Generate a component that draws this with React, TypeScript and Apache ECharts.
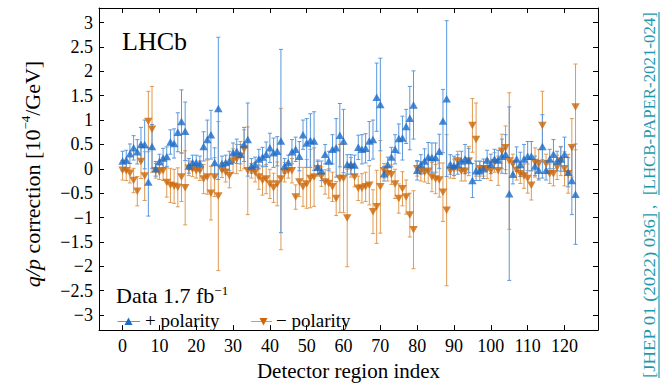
import React, { useEffect, useRef } from "react";
import * as echarts from "echarts";

const xTicks = [0, 10, 20, 30, 40, 50, 60, 70, 80, 90, 100, 110, 120];
const yTicks = [-3, -2.5, -2, -1.5, -1, -0.5, 0, 0.5, 1, 1.5, 2, 2.5, 3];

const plusValues = [
  0.16, 0.18, 0.31, 0.43, 0.35, 0.5, 0.5, -0.27, 0.46, 0.0,
  0.15, 0.22, 0.25, 0.55, 0.52, 0.75, 0.97, 0.77, 0.06, 0.13,
  0.13, 0.11, 0.46, 0.6, 0.7, 0.13, 1.24, 0.11, 0.13, 0.16,
  0.33, 0.36, 0.3, 0.5, 0.6, 0.06, 0.09, 0.2, 0.24, 0.3,
  0.43, 0.33, 0.36, 0.57, 0.06, 0.13, 0.35, 0.4, 0.26, 0.7,
  0.53, 0.58, 0.57, 0.03, -0.04, 0.3, 0.16, 0.4, 0.43, 0.69,
  0.57, 0.09, 0.09, 0.08, 0.44, 0.4, 0.42, 0.57, 0.6, 1.47,
  1.32, -0.1, 0.09, 0.24, 0.4, 0.62, 0.63, 0.87, 1.04, 1.31,
  -0.03, 0.09, 0.16, 0.24, 0.23, 0.23, 0.36, 0.98, 1.44, 0.09,
  0.06, 0.09, 0.16, 0.2, 0.17, -0.24, -0.04, -0.04, 0.0, 0.18,
  0.1, 0.2, 0.18, 0.26, 0.3, -0.51, -0.11, 0.2, 0.09, 0.2,
  0.26, 0.26, 0.06, -0.03, 0.46, -0.03, 0.2, 0.3, 0.16, 0.2,
  0.3, -0.07, -0.24, -0.52,
];
const plusErrors = [
  0.2, 0.2, 0.2, 0.25, 0.25, 0.35, 0.5, 0.7, 0.45, 0.15,
  0.15, 0.2, 0.2, 0.25, 0.3, 0.4, 0.65, 0.6, 0.15, 0.15,
  0.15, 0.15, 0.3, 0.4, 0.5, 0.3, 1.46, 0.15, 0.15, 0.2,
  0.2, 0.25, 0.2, 0.35, 0.75, 0.15, 0.15, 0.2, 0.2, 0.25,
  0.3, 0.3, 0.3, 1.88, 0.15, 0.15, 0.25, 0.25, 0.3, 0.3,
  0.5, 0.55, 0.6, 0.15, 0.2, 0.2, 0.2, 0.3, 0.6, 0.65,
  0.65, 0.2, 0.2, 0.2, 0.25, 0.3, 0.3, 0.4, 0.4, 0.7,
  0.95, 0.15, 0.15, 0.2, 0.3, 0.3, 0.45, 0.35, 0.65, 0.7,
  0.2, 0.2, 0.25, 0.3, 0.3, 0.3, 0.35, 0.65, 1.6, 0.2,
  0.2, 0.2, 0.2, 0.3, 0.25, 0.35, 0.2, 0.2, 0.2, 0.2,
  0.2, 0.2, 0.2, 0.35, 0.4, 1.78, 0.2, 0.25, 0.25, 0.3,
  0.3, 0.3, 0.2, 0.2, 0.65, 0.2, 0.2, 0.3, 0.2, 0.25,
  0.35, 0.3, 0.7, 1.03,
];
const minusValues = [
  -0.03, -0.04, -0.09, -0.24, -0.46, 0.15, -0.15, 0.97, 0.81, -0.04,
  -0.07, -0.04, -0.28, -0.34, -0.36, -0.38, -0.17, -0.39, 0.01, -0.01,
  -0.04, -0.04, -0.21, -0.17, -0.5, -0.17, -0.56, -0.03, -0.07, -0.14,
  0.16, 0.2, 0.26, 0.4, -0.04, -0.04, -0.07, -0.17, -0.24, -0.21,
  -0.31, -0.39, -0.31, -0.21, -0.07, -0.04, -0.04, -0.58, -0.27, -0.37,
  -0.31, -0.2, -0.17, 0.0, -0.16, -0.27, -0.3, -0.37, -0.61, -0.2,
  -0.2, -1.01, 0.03, -0.17, -0.4, -0.4, -0.37, -0.34, -0.88, -0.78,
  -0.37, -0.04, -0.1, -0.12, -0.31, -0.61, -0.41, -0.58, -0.95, -1.25,
  0.0, -0.05, -0.07, -0.05, -0.17, -0.21, -0.23, -0.48, -0.85, -0.04,
  0.0, 0.16, -0.05, -0.05, 0.16, 0.89, 0.6, 0.0, 0.0, 0.0,
  -0.04, 0.13, -0.04, 0.36, 0.43, 0.16, 0.1, -0.03, -0.1, -0.15,
  -0.2, -0.34, 0.13, 0.1, 0.89, 0.1, -0.1, -0.1, 0.03, 0.16,
  0.0, -0.1, 0.43, 1.27,
];
const minusErrors = [
  0.2, 0.2, 0.2, 0.25, 0.3, 0.35, 0.5, 0.62, 0.88, 0.15,
  0.15, 0.2, 0.3, 0.35, 0.35, 0.4, 0.5, 0.76, 0.15, 0.15,
  0.15, 0.2, 0.3, 0.35, 0.55, 0.4, 1.53, 0.15, 0.2, 0.25,
  0.25, 0.3, 0.3, 0.4, 0.9, 0.15, 0.2, 0.25, 0.3, 0.3,
  0.3, 0.3, 0.45, 1.45, 0.2, 0.15, 0.25, 0.25, 0.3, 0.4,
  0.5, 0.6, 0.6, 0.15, 0.2, 0.25, 0.3, 0.3, 0.35, 0.7,
  0.7, 1.0, 0.2, 0.2, 0.25, 0.3, 0.3, 0.4, 0.45, 0.75,
  0.95, 0.15, 0.15, 0.2, 0.3, 0.3, 0.35, 0.35, 0.45, 0.8,
  0.15, 0.2, 0.2, 0.25, 0.3, 0.3, 0.35, 0.6, 1.55, 0.15,
  0.2, 0.2, 0.2, 0.2, 0.3, 0.55, 0.75, 0.15, 0.15, 0.2,
  0.2, 0.2, 0.3, 0.35, 0.45, 1.4, 0.2, 0.2, 0.2, 0.25,
  0.3, 0.3, 0.3, 0.3, 0.7, 0.2, 0.2, 0.25, 0.25, 0.3,
  0.35, 0.4, 0.6, 0.88,
];

const BLUE = "#1d6bc8";
const BLUE_BAR = "#5a98de";
const ORANGE = "#cc6608";
const ORANGE_BAR = "#e09a52";
const TEAL = "#1f9aab";
const SERIF = "'Liberation Serif', 'Times New Roman', serif";

const fmtMinus = (v: number) => (v < 0 ? "\u2212" + String(Math.abs(v)) : String(v));

function errorSeries(values: number[], errors: number[], color: string, z: number) {
  return {
    type: "custom",
    xAxisIndex: 0,
    yAxisIndex: 0,
    silent: true,
    z,
    data: values.map((v, i) => [i, v - errors[i], v + errors[i]]),
    encode: { x: 0, y: [1, 2] },
    renderItem: (params: any, api: any) => {
      const x = api.value(0);
      const lo = api.coord([x, api.value(1)]);
      const hi = api.coord([x, api.value(2)]);
      const c = 2;
      const st = { stroke: color, lineWidth: 1 };
      return {
        type: "group",
        children: [
          { type: "line", shape: { x1: lo[0], y1: lo[1], x2: hi[0], y2: hi[1] }, style: st },
          { type: "line", shape: { x1: lo[0] - c, y1: lo[1], x2: lo[0] + c, y2: lo[1] }, style: st },
          { type: "line", shape: { x1: hi[0] - c, y1: hi[1], x2: hi[0] + c, y2: hi[1] }, style: st },
        ],
      };
    },
  };
}

function measure(text: string, size: number) {
  const cv = document.createElement("canvas");
  const ctx = cv.getContext("2d");
  if (!ctx) return text.length * size * 0.5;
  ctx.font = `${size}px ${SERIF}`;
  return ctx.measureText(text).width;
}

export default function App() {
  const ref = useRef<HTMLDivElement>(null);
  useEffect(() => {
    if (!ref.current) return;
    const chart = echarts.init(ref.current, undefined, { renderer: "svg" });

    const citeSize = 17;
    const p1 = "[JHEP 01 (2022) 036]";
    const p3 = "[LHCB-PAPER-2021-024]";
    const w1 = measure(p1, citeSize);
    const w3 = measure(p3, citeSize);
    const start1 = 8;
    const len1 = 166;
    const start3 = 191;
    const len3 = 183;

    const axisCommon = {
      type: "value",
      splitLine: { show: false },
      axisLine: { show: true, onZero: false, lineStyle: { color: "#000", width: 1 } },
    };

    chart.setOption({
      animation: false,
      backgroundColor: "#fff",
      grid: { left: 99, right: 66, top: 8, bottom: 50, containLabel: false },
      xAxis: [
        {
          ...axisCommon,
          position: "bottom",
          min: -6.4,
          max: 129.1,
          axisTick: { show: true, inside: true, length: 5, customValues: xTicks, lineStyle: { color: "#000" } },
          axisLabel: {
            customValues: xTicks,
            fontFamily: SERIF,
            fontSize: 18,
            color: "#000",
            margin: 7,
          },
          name: "Detector region index",
          nameLocation: "middle",
          nameGap: 29,
          nameTextStyle: { fontFamily: SERIF, fontSize: 21, color: "#000" },
        },
        {
          ...axisCommon,
          position: "top",
          min: -6.4,
          max: 129.1,
          axisTick: { show: true, inside: true, length: 5, customValues: xTicks, lineStyle: { color: "#000" } },
          axisLabel: { show: false },
        },
      ],
      yAxis: [
        {
          ...axisCommon,
          position: "left",
          min: -3.31,
          max: 3.3,
          axisTick: { show: true, inside: true, length: 5, customValues: yTicks, lineStyle: { color: "#000" } },
          axisLabel: {
            customValues: yTicks,
            fontFamily: SERIF,
            fontSize: 18,
            color: "#000",
            margin: 6,
            formatter: (v: number) => fmtMinus(v),
          },
        },
        {
          ...axisCommon,
          position: "right",
          min: -3.31,
          max: 3.3,
          axisTick: { show: true, inside: true, length: 5, customValues: yTicks, lineStyle: { color: "#000" } },
          axisLabel: { show: false },
        },
      ],
      series: [
        errorSeries(minusValues, minusErrors, ORANGE_BAR, 2),
        errorSeries(plusValues, plusErrors, BLUE_BAR, 3),
        {
          type: "scatter",
          name: "\u2212 polarity",
          data: minusValues.map((v, i) => [i, v]),
          symbol: "triangle",
          symbolRotate: 180,
          symbolSize: [8.5, 7.5],
          itemStyle: { color: ORANGE },
          z: 4,
          silent: true,
        },
        {
          type: "scatter",
          name: "+ polarity",
          data: plusValues.map((v, i) => [i, v]),
          symbol: "triangle",
          symbolSize: [8.5, 7.5],
          itemStyle: { color: BLUE },
          z: 5,
          silent: true,
        },
      ],
      graphic: [
        {
          type: "text",
          x: 32,
          y: 174,
          rotation: Math.PI / 2,
          style: {
            text: "{i|q/p} correction [10{sup|\u22124}/GeV]",
            font: `22px ${SERIF}`,
            fill: "#000",
            align: "center",
            verticalAlign: "middle",
            rich: {
              i: { fontFamily: SERIF, fontSize: 22, fontStyle: "italic", lineHeight: 26 },
              sup: { fontFamily: SERIF, fontSize: 13, lineHeight: 13, verticalAlign: "top" },
            },
          },
        },
        {
          type: "text",
          x: 122,
          y: 41,
          style: { text: "LHCb", font: `26px ${SERIF}`, fill: "#000", verticalAlign: "middle" },
        },
        {
          type: "text",
          x: 116,
          y: 295,
          style: {
            text: "Data 1.7 fb{sup|\u22121}",
            font: `22px ${SERIF}`,
            fill: "#000",
            verticalAlign: "middle",
            rich: {
              sup: { fontFamily: SERIF, fontSize: 13, lineHeight: 13, verticalAlign: "top" },
            },
          },
        },
        // legend: + polarity
        { type: "line", shape: { x1: 117.5, y1: 321.5, x2: 140, y2: 321.5 }, style: { stroke: BLUE_BAR, lineWidth: 1 } },
        {
          type: "polygon",
          shape: { points: [[128.5, 317.5], [132.5, 325], [124.5, 325]] },
          style: { fill: BLUE },
        },
        {
          type: "text",
          x: 145,
          y: 320,
          style: { text: "+ polarity", font: `19px ${SERIF}`, fill: "#000", verticalAlign: "middle" },
        },
        // legend: - polarity
        { type: "line", shape: { x1: 251, y1: 321.5, x2: 272, y2: 321.5 }, style: { stroke: ORANGE_BAR, lineWidth: 1 } },
        {
          type: "polygon",
          shape: { points: [[259.5, 318], [267.5, 318], [263.5, 325.5]] },
          style: { fill: ORANGE },
        },
        {
          type: "text",
          x: 276,
          y: 320,
          style: { text: "\u2212 polarity", font: `19px ${SERIF}`, fill: "#000", verticalAlign: "middle" },
        },
        // citation on right side
        {
          type: "group",
          x: 649,
          y: 386,
          rotation: Math.PI / 2,
          children: [
            {
              type: "text",
              x: start1,
              y: 0,
              scaleX: len1 / w1,
              style: { text: p1, font: `${citeSize}px ${SERIF}`, fill: TEAL, align: "left", verticalAlign: "middle" },
            },
            { type: "line", shape: { x1: start1, y1: 10, x2: start1 + len1, y2: 10 }, style: { stroke: TEAL, lineWidth: 1.2 } },
            {
              type: "text",
              x: start1 + len1 + 3,
              y: 0,
              style: { text: ",", font: `${citeSize}px ${SERIF}`, fill: TEAL, align: "left", verticalAlign: "middle" },
            },
            {
              type: "text",
              x: start3,
              y: 0,
              scaleX: len3 / w3,
              style: { text: p3, font: `${citeSize}px ${SERIF}`, fill: TEAL, align: "left", verticalAlign: "middle" },
            },
            { type: "line", shape: { x1: start3, y1: 10, x2: start3 + len3, y2: 10 }, style: { stroke: TEAL, lineWidth: 1.2 } },
          ],
        },
      ],
    });

    return () => chart.dispose();
  }, []);

  return <div ref={ref} style={{ width: 664, height: 386, position: "absolute", left: 0, top: 0 }} />;
}
